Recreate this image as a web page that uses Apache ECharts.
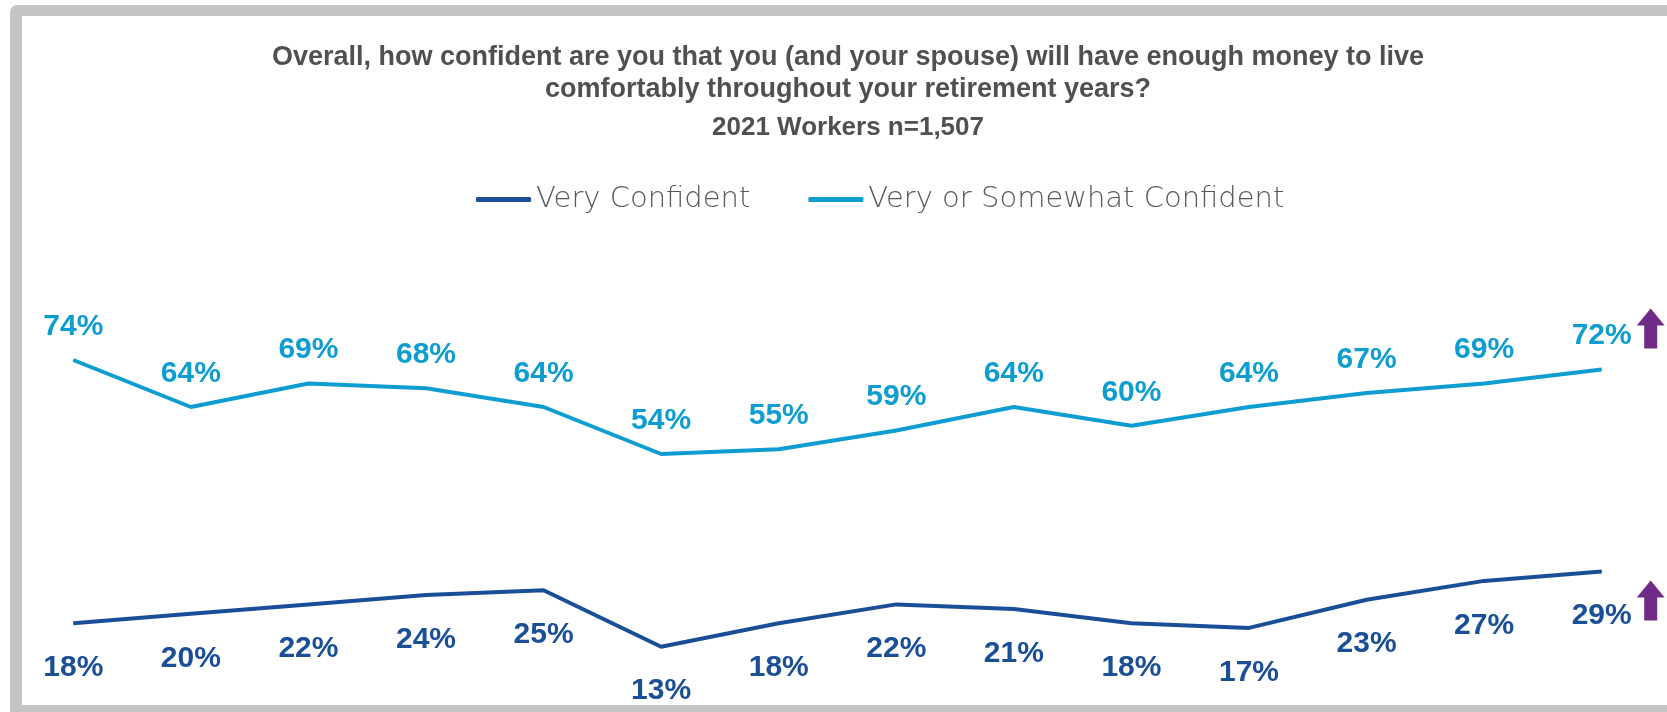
<!DOCTYPE html>
<html>
<head>
<meta charset="utf-8">
<title>Retirement confidence</title>
<script src="https://cdn.jsdelivr.net/npm/echarts@6/dist/echarts.min.js"></script>
<style>
  html, body { margin: 0; padding: 0; background: #ffffff; }
  #chart { width: 1667px; height: 712px; }
</style>
</head>
<body>
<div id="chart"></div>
<script>
// Survey waves (not drawn as axis labels)
const years = ['2008','2009','2010','2011','2012','2013','2014','2015','2016','2017','2018','2019','2020','2021'];

// Share of workers, in percent
const veryConfident = [18, 20, 22, 24, 25, 13, 18, 22, 21, 18, 17, 23, 27, 29];
const veryOrSomewhat = [74, 64, 69, 68, 64, 54, 55, 59, 64, 60, 64, 67, 69, 72];

const seriesNames = ['Very Confident', 'Very or Somewhat Confident'];
const titleLines = [
  'Overall, how confident are you that you (and your spouse) will have enough money to live',
  'comfortably throughout your retirement years?'
];
const subtitle = '2021 Workers n=1,507';

const DARK = '#1a4f97';
const LIGHT = '#0e9dd1';
const PURPLE = '#702a88';
const GREY_TEXT = '#505050';
const FRAME = '#c5c3c6';

const upArrow = 'path://M14,0 L28,17 L20.5,17 L20.5,40 L7.5,40 L7.5,17 L0,17 Z';
const last = years.length - 1;

const chart = echarts.init(document.getElementById('chart'), null, { renderer: 'canvas' });

chart.setOption({
  backgroundColor: '#ffffff',
  animation: false,
  graphic: [
    // grey frame around the panel, open to the right
    { type: 'rect', z: -10, shape: { x: 10, y: 5, width: 1720, height: 760, r: 7 }, style: { fill: FRAME } },
    { type: 'rect', z: -9, shape: { x: 22, y: 16, width: 1720, height: 689 }, style: { fill: '#ffffff' } },
    {
      type: 'text', x: 848, y: 42, z: 5,
      style: {
        text: titleLines.join('\n'), align: 'center', verticalAlign: 'top',
        fill: GREY_TEXT, font: 'bold 27px "Liberation Sans", Arial, sans-serif', lineHeight: 32
      }
    },
    {
      type: 'text', x: 848, y: 113, z: 5,
      style: {
        text: subtitle, align: 'center', verticalAlign: 'top',
        fill: GREY_TEXT, font: 'bold 26px "Liberation Sans", Arial, sans-serif', lineHeight: 30
      }
    }
  ],
  legend: {
    data: seriesNames,
    left: 476,
    top: 185,
    padding: 0,
    itemWidth: 55,
    itemHeight: 5,
    itemGap: 58,
    icon: 'roundRect',
    textStyle: { color: '#595959', fontSize: 29, fontFamily: '"DejaVu Sans", sans-serif', fontWeight: 200, padding: [0, 0, 0, 0] }
  },
  grid: { left: 73.3, right: 65.3, top: 331.8, bottom: 51.2, containLabel: false },
  xAxis: {
    type: 'category', data: years, boundaryGap: false, show: false
  },
  yAxis: {
    type: 'value', min: 10, max: 80, interval: 10, show: false, splitLine: { show: false }
  },
  series: [
    {
      name: seriesNames[0], type: 'line', data: veryConfident,
      symbol: 'circle', symbolSize: 1, showSymbol: true,
      lineStyle: { color: DARK, width: 4 }, itemStyle: { color: DARK },
      label: {
        show: true, position: 'bottom', distance: 29, formatter: '{c}%',
        color: DARK, fontSize: 30, fontWeight: 'bold', fontFamily: '"Liberation Sans", Arial, sans-serif'
      },
      markPoint: {
        symbol: upArrow, symbolSize: [28, 40], symbolOffset: [49, 29],
        itemStyle: { color: PURPLE }, label: { show: false },
        data: [{ coord: [last, veryConfident[last]] }]
      }
    },
    {
      name: seriesNames[1], type: 'line', data: veryOrSomewhat,
      symbol: 'circle', symbolSize: 1, showSymbol: true,
      lineStyle: { color: LIGHT, width: 4 }, itemStyle: { color: LIGHT },
      label: {
        show: true, position: 'top', distance: 18, formatter: '{c}%',
        color: LIGHT, fontSize: 30, fontWeight: 'bold', fontFamily: '"Liberation Sans", Arial, sans-serif'
      },
      markPoint: {
        symbol: upArrow, symbolSize: [28, 40], symbolOffset: [49, -41],
        itemStyle: { color: PURPLE }, label: { show: false },
        data: [{ coord: [last, veryOrSomewhat[last]] }]
      }
    }
  ]
});
</script>
</body>
</html>
